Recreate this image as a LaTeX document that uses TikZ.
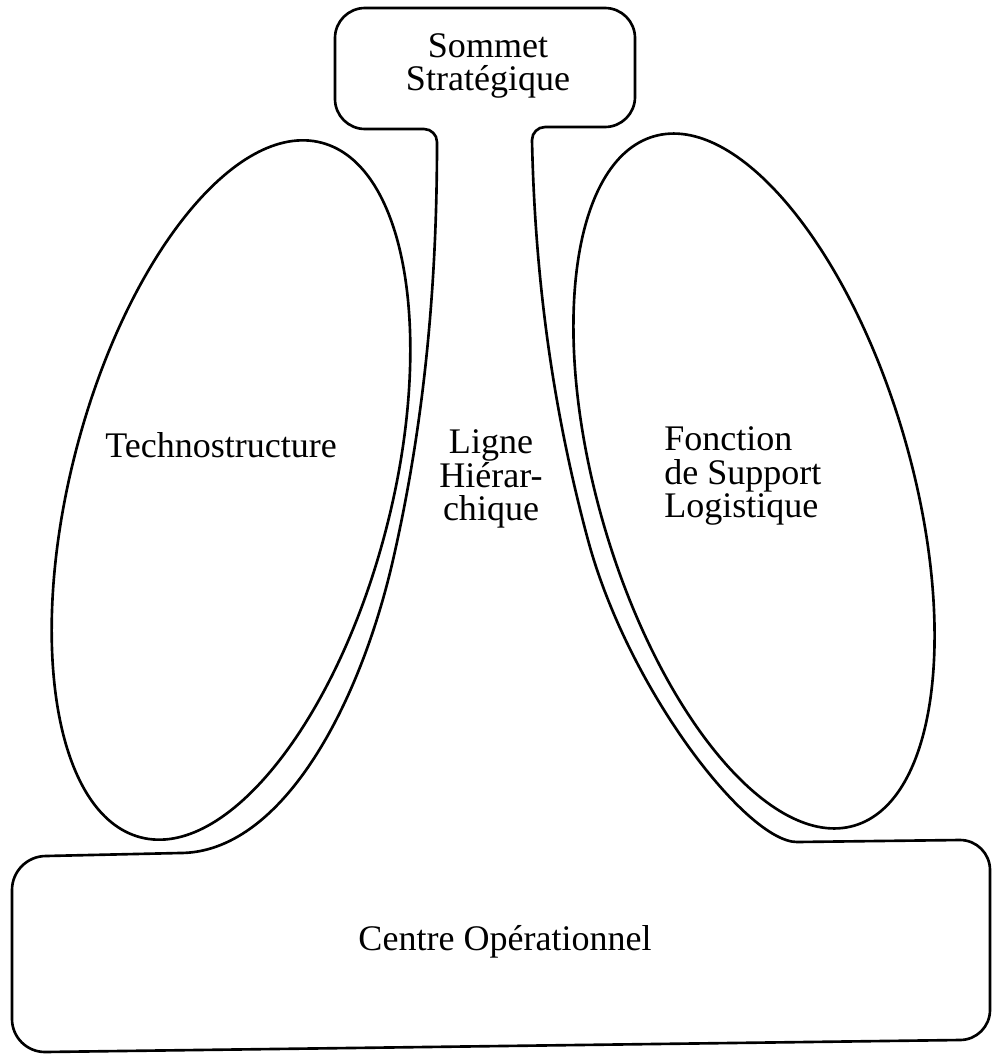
\documentclass[tikz,border=0pt]{standalone}
\usepackage{fontspec}
\setmainfont{Liberation Serif}
\usetikzlibrary{shapes.geometric}
\begin{document}
\begin{tikzpicture}[x=0.02cm,y=0.02cm,
  outline/.style={line width=1.5pt, line join=round},
  lobe/.style={draw, ellipse, line width=1.5pt, inner sep=0pt},
  lbl/.style={font=\fontsize{20.5}{19.2}\selectfont, inner sep=0pt}]
\useasboundingbox (0,0) rectangle (992,-1055);

% central outline: Sommet, Ligne, Centre
\draw[outline] (335,-99) -- (335,-38) arc[start angle=180,end angle=90,radius=30]
  -- (605,-8) arc[start angle=90,end angle=0,radius=30]
  -- (635,-97) arc[start angle=0,end angle=-90,radius=30]
  -- (545,-127) arc[start angle=90,end angle=180,radius=13]
  .. controls (535,-280) and (553,-410) .. (588,-540)
  .. controls (628.5,-690) and (747,-842) .. (797,-842)
  -- (960,-840) arc[start angle=90,end angle=0,radius=30]
  -- (990,-1010) arc[start angle=0,end angle=-90,radius=30]
  -- (45,-1052) arc[start angle=270,end angle=180,radius=33]
  -- (12,-890) arc[start angle=180,end angle=90,radius=34]
  -- (180,-853)
  .. controls (280,-853) and (358.5,-710) .. (393,-560)
  .. controls (425,-420) and (437,-282) .. (437,-142)
  arc[start angle=0,end angle=90,radius=13]
  -- (365,-129) arc[start angle=270,end angle=180,radius=30] -- cycle;

% lobes
\node[lobe, minimum width=6.4cm, minimum height=14.36cm, rotate=-14.6] (techno) at (231,-490) {};
\node[lobe, minimum width=6.26cm, minimum height=14.36cm, rotate=16.2] (support) at (754,-481) {};

% labels
\node[lbl, align=center] (sommet) at (488,-66) {Sommet\\Stratégique};
\node[lbl, anchor=base] (technolbl) at (221,-457) {Technostructure};
\node[lbl, align=center] (ligne) at (491,-479) {Ligne\\Hiérar-\\chique};
\node[lbl, align=left, anchor=west] (supportlbl) at (664,-476) {Fonction\\de Support\\Logistique};
\node[lbl, anchor=base] (centre) at (505,-950) {Centre Opérationnel};
\end{tikzpicture}
\end{document}
